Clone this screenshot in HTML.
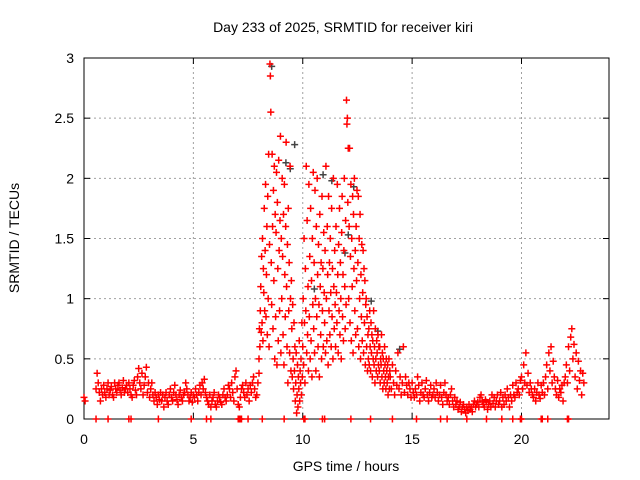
<!DOCTYPE html>
<html><head><meta charset="utf-8"><style>
body{margin:0;background:#fff;}
svg{display:block;font-family:"Liberation Sans",sans-serif;}
</style></head><body>
<svg id="chart" width="640" height="480">
<text x="343" y="32" font-size="14" text-anchor="middle">Day 233 of 2025, SRMTID for receiver kiri</text>
<text x="346" y="471" font-size="14" text-anchor="middle">GPS time / hours</text>
<text transform="translate(19,238) rotate(-90)" font-size="14" text-anchor="middle">SRMTID / TECUs</text>
<g id="grid"></g>
<g id="axes"></g>
<g id="marks"></g>
</svg>
<script>
const xTicks=[0,5,10,15,20];
const yTicks=[0,0.5,1,1.5,2,2.5,3];
const yTickLabels=["0","0.5","1","1.5","2","2.5","3"];
const segStarts=[0.0,0.55,2.0,3.55,5.05,6.55,8.0,14.0,15.0,16.0,17.0,18.0,19.0,20.0,21.0,22.0];
const segSteps=[0.05,0.05,0.05,0.05,0.05,0.05,0.02,0.05,0.05,0.05,0.05,0.05,0.05,0.05,0.05,0.05];
const segValues=[
[0.18,0.15],
[0.25,0.38,0.3,0.22,0.15,0.25,0.2,0.28,0.22,0.18,0.25,0.3,0.2,0.24,0.27,0.2,0.18,0.3,0.25,0.22,0.28,0.3,0.24,0.2,0.26,0.32,0.22,0.25,0.28],
[0.22,0.3,0.25,0.2,0.18,0.28,0.32,0.24,0.2,0.35,0.42,0.3,0.25,0.38,0.2,0.28,0.35,0.43,0.22,0.3,0.18,0.25,0.3,0.2,0.15,0.22,0.18,0.12,0.2,0.16,0.22],
[0.15,0.2,0.1,0.18,0.22,0.15,0.12,0.2,0.25,0.18,0.15,0.22,0.28,0.2,0.16,0.12,0.2,0.24,0.18,0.15,0.2,0.22,0.3,0.25,0.2,0.15,0.18,0.22,0.14,0.2],
[0.18,0.25,0.2,0.15,0.22,0.28,0.2,0.3,0.25,0.33,0.22,0.18,0.15,0.12,0.2,0.1,0.15,0.18,0.22,0.12,0.1,0.15,0.2,0.18,0.14,0.12,0.2,0.25,0.18,0.15],
[0.2,0.28,0.25,0.18,0.3,0.22,0.15,0.35,0.4,0.25,0.12,0.1,0.18,0.25,0.28,0.22,0.18,0.3,0.2,0.25,0.15,0.28,0.22,0.3,0.35,0.25,0.18,0.2,0.3,0.38],
[0.5,0.75,0.6,0.9,1.1,0.72,1.35,0.8,1.5,0.65,1.25,1.05,1.75,0.9,1.4,1.95,0.85,1.2,1.6,0.7,1.85,1.0,2.2,0.6,1.45,
 2.95,2.85,2.55,1.3,0.95,2.2,1.6,0.75,1.9,1.15,2.1,0.5,1.7,0.85,1.55,2.05,0.45,1.8,1.25,0.65,2.15,1.4,0.9,1.65,2.35,
 0.55,1.5,1.0,2.0,1.35,0.7,1.7,0.45,1.95,1.2,0.85,1.6,2.3,1.1,0.6,1.45,0.3,1.75,0.9,1.3,0.55,2.1,1.0,0.4,1.15,
 0.75,0.35,0.95,0.5,0.25,0.8,0.4,0.6,0.15,0.3,0.55,0.05,0.2,0.45,0.1,0.35,0.25,0.65,0.15,0.4,0.3,0.5,0.2,0.8,0.35,
 0.6,1.0,0.45,1.5,0.8,0.3,1.25,0.9,2.1,0.55,1.65,0.7,1.1,0.4,1.95,0.85,1.35,0.5,1.75,0.65,1.15,0.35,1.5,0.95,2.05,
 0.75,1.3,0.55,1.9,1.0,0.4,1.6,0.85,2.0,1.2,0.6,1.45,0.95,0.35,1.7,1.1,0.7,1.3,0.5,1.85,0.9,1.25,0.6,1.55,1.05,
 0.8,1.4,0.55,2.1,1.0,0.65,1.6,1.2,0.45,1.85,0.9,1.3,0.7,1.5,1.05,0.6,1.75,0.85,1.25,0.5,2.0,1.1,0.75,1.4,0.95,
 0.6,1.6,1.05,0.8,1.95,1.2,0.55,1.45,0.9,1.75,0.7,1.3,1.0,0.5,1.55,1.85,0.85,1.2,0.65,1.4,2.0,1.1,0.75,1.65,0.95,
 2.65,2.45,2.5,1.8,2.25,1.0,1.6,2.25,0.8,1.35,1.95,0.65,1.5,1.1,1.85,0.55,1.7,1.25,2.0,0.9,1.4,0.7,1.6,1.15,1.9,
 0.75,1.3,1.85,0.6,1.5,1.0,1.7,0.5,1.2,0.85,1.45,0.65,1.05,1.4,0.55,1.25,0.8,1.15,0.45,0.95,1.0,0.6,0.85,0.4,0.7,
 0.5,0.75,0.45,0.9,0.6,0.4,0.8,0.55,0.7,0.35,0.65,0.5,0.9,0.45,0.6,0.3,0.75,0.5,0.4,0.65,0.55,0.35,0.7,0.45,0.6,
 0.4,0.6,0.3,0.5,0.45,0.7,0.35,0.55,0.25,0.5,0.4,0.3,0.6,0.45,0.35,0.25,0.5,0.4,0.3,0.45,0.2,0.35,0.5,0.25,0.4],
[0.35,0.25,0.45,0.3,0.2,0.4,0.28,0.55,0.25,0.35,0.2,0.3,0.6,0.22,0.35,0.28,0.2,0.3,0.25,0.18],
[0.3,0.22,0.18,0.25,0.2,0.35,0.28,0.15,0.22,0.3,0.2,0.18,0.25,0.32,0.2,0.15,0.22,0.28,0.18,0.2],
[0.25,0.18,0.3,0.22,0.15,0.2,0.28,0.18,0.12,0.22,0.3,0.2,0.15,0.18,0.12,0.2,0.25,0.15,0.1,0.18],
[0.12,0.15,0.08,0.1,0.14,0.06,0.1,0.12,0.08,0.05,0.1,0.07,0.12,0.08,0.1,0.06,0.12,0.15,0.1,0.12],
[0.14,0.1,0.18,0.2,0.15,0.12,0.1,0.16,0.14,0.08,0.12,0.15,0.1,0.2,0.13,0.18,0.1,0.15,0.2,0.12],
[0.15,0.22,0.1,0.18,0.12,0.2,0.15,0.25,0.18,0.1,0.2,0.15,0.28,0.2,0.18,0.3,0.22,0.25,0.2,0.32],
[0.35,0.25,0.45,0.3,0.55,0.28,0.38,0.22,0.3,0.25,0.2,0.18,0.25,0.15,0.22,0.3,0.2,0.17,0.28,0.22],
[0.3,0.2,0.35,0.45,0.25,0.55,0.4,0.6,0.3,0.48,0.35,0.25,0.2,0.32,0.18,0.25,0.22,0.28,0.15,0.3],
[0.35,0.45,0.3,0.6,0.4,0.68,0.75,0.5,0.62,0.35,0.55,0.25,0.48,0.32,0.4,0.2,0.38,0.3]
];
const zeroTimes=[0.55,1.1,2.05,2.15,3.4,4.9,5.6,5.8,7.05,7.1,7.15,7.2,7.5,8.15,9.15,10.05,10.1,10.9,11.0,12.2,13.1,14.1,15.2,16.3,16.6,17.5,18.4,19.1,19.6,19.95,20.0,20.9,20.95,21.2,22.1,22.15];
const blackTimes=[8.55,9.6,9.4,10.9,11.3,12.3,9.2,13.1,14.4,13.4,10.5,11.9,12.05];
const blackValues=[2.95,2.3,2.1,2.05,2.0,1.95,2.15,1.0,0.6,0.75,1.1,1.4,1.55];

const X0=84,X1=609,Y0=419,Y1=58,XMAX=24,YMAX=3;
const xs=t=>X0+(X1-X0)*t/XMAX;
const ys=v=>Y0-(Y0-Y1)*v/YMAX;
const NS="http://www.w3.org/2000/svg";
function mk(tag,attrs,parent){const e=document.createElementNS(NS,tag);for(const k in attrs)e.setAttribute(k,attrs[k]);parent.appendChild(e);return e;}
const grid=document.getElementById('grid'),axes=document.getElementById('axes'),marks=document.getElementById('marks');
yTicks.forEach((v,i)=>{
  const y=ys(v);
  if(v>0&&v<YMAX){const g=mk('line',{x1:X0,x2:X1,y1:y,y2:y,stroke:'#a0a0a0','stroke-dasharray':'2,3'},grid);
  
  }
  mk('line',{x1:X0,x2:X0+6,y1:y,y2:y,stroke:'#000'},axes);
  mk('line',{x1:X1,x2:X1-6,y1:y,y2:y,stroke:'#000'},axes);
  const t=mk('text',{x:X0-10,y:y+5,'font-size':14,'text-anchor':'end'},axes);t.textContent=yTickLabels[i];
  
  
});
xTicks.forEach(v=>{
  const x=xs(v);
  if(v>0){const g=mk('line',{x1:x,x2:x,y1:Y0,y2:Y1,stroke:'#a0a0a0','stroke-dasharray':'2,3'},grid);
  
  }
  mk('line',{x1:x,x2:x,y1:Y0,y2:Y0-6,stroke:'#000'},axes);
  mk('line',{x1:x,x2:x,y1:Y1,y2:Y1+6,stroke:'#000'},axes);
  const t=mk('text',{x:x,y:Y0+25,'font-size':14,'text-anchor':'middle'},axes);t.textContent=String(v);
  
  
});
const frame=mk('rect',{x:X0,y:Y1,width:X1-X0,height:Y0-Y1,fill:'none',stroke:'#000'},axes);


function cross(t,v,col,name){
  const x=xs(t),y=ys(v);
  const p=mk('path',{d:`M${x-3.5},${y}H${x+3.5}M${x},${y-3.5}V${y+3.5}`,stroke:col,'stroke-width':1.5,fill:'none'},marks);
  
  
}
blackTimes.forEach((t,i)=>cross(t+0.03,blackValues[i]-0.02,'#444','point-black'));
segValues.forEach((vals,s)=>{vals.forEach((v,i)=>cross(segStarts[s]+i*segSteps[s],v,'#ff0000','point-srmtid'));});
zeroTimes.forEach(t=>cross(t,0,'#ff0000','point-zero'));
</script>
</body></html>
